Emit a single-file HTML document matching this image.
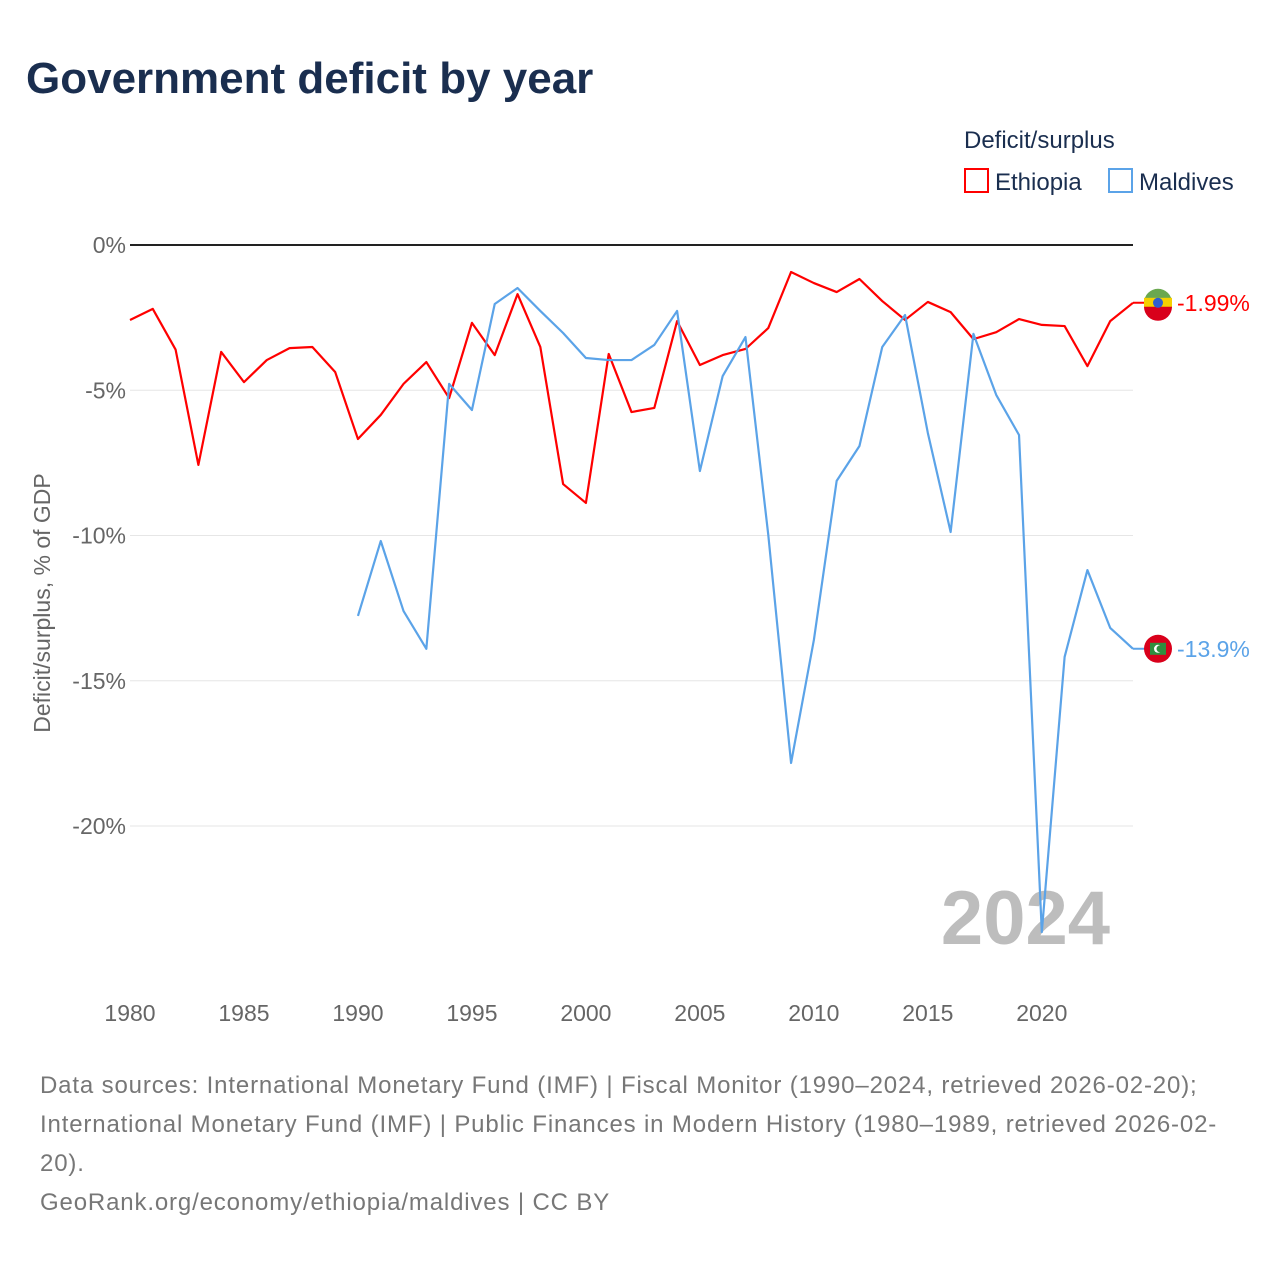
<!DOCTYPE html>
<html><head><meta charset="utf-8"><style>
body{margin:0;background:#fff;font-family:"Liberation Sans",sans-serif;}
#wrap{position:relative;width:1280px;height:1280px;overflow:hidden}
.src{letter-spacing:0.85px}
</style></head><body>
<div id="wrap">
<svg id="chart" width="1280" height="1280" xmlns="http://www.w3.org/2000/svg">
<text x="26" y="93" font-size="44" font-weight="bold" fill="#1a2e4f">Government deficit by year</text>
<text x="964" y="148" font-size="24" fill="#1a2e4f">Deficit/surplus</text>
<g><rect x="965" y="169" width="23" height="23" fill="none" stroke="#ff0000" stroke-width="2"/><text x="995" y="190" font-size="24" fill="#1a2e4f">Ethiopia</text></g>
<g><rect x="1109" y="169" width="23" height="23" fill="none" stroke="#5ba3e8" stroke-width="2"/><text x="1139" y="190" font-size="24" fill="#1a2e4f">Maldives</text></g>
<text transform="translate(50,603) rotate(-90)" text-anchor="middle" font-size="23" fill="#666">Deficit/surplus, % of GDP</text>
<text x="1110" y="944" text-anchor="end" font-size="76" font-weight="bold" fill="#bdbdbd">2024</text>
<g id="grid"></g><g id="series"></g>
<text class="src" x="40" y="1093" font-size="24" fill="#777">Data sources: International Monetary Fund (IMF) | Fiscal Monitor (1990–2024, retrieved 2026-02-20);</text>
<text class="src" x="40" y="1132" font-size="24" fill="#777">International Monetary Fund (IMF) | Public Finances in Modern History (1980–1989, retrieved 2026-02-</text>
<text class="src" x="40" y="1171" font-size="24" fill="#777">20).</text>
<text class="src" x="40" y="1210" font-size="24" fill="#777">GeoRank.org/economy/ethiopia/maldives | CC BY</text>
</svg></div>
<script>
const yTicks=[0,-5,-10,-15,-20];
const xTicks=[1980,1985,1990,1995,2000,2005,2010,2015,2020];
const ethYears=[1980,1981,1982,1983,1984,1985,1986,1987,1988,1989,1990,1991,1992,1993,1994,1995,1996,1997,1998,1999,2000,2001,2002,2003,2004,2005,2006,2007,2008,2009,2010,2011,2012,2013,2014,2015,2016,2017,2018,2019,2020,2021,2022,2023,2024];
const ethValues=[-2.58,-2.2,-3.6,-7.57,-3.68,-4.72,-3.96,-3.55,-3.51,-4.37,-6.68,-5.85,-4.78,-4.03,-5.27,-2.68,-3.79,-1.69,-3.51,-8.23,-8.88,-3.75,-5.75,-5.61,-2.62,-4.13,-3.79,-3.58,-2.86,-0.93,-1.31,-1.62,-1.17,-1.93,-2.58,-1.96,-2.31,-3.24,-3.0,-2.55,-2.75,-2.79,-4.17,-2.62,-1.99];
const mdvYears=[1990,1991,1992,1993,1994,1995,1996,1997,1998,1999,2000,2001,2002,2003,2004,2005,2006,2007,2008,2009,2010,2011,2012,2013,2014,2015,2016,2017,2018,2019,2020,2021,2022,2023,2024];
const mdvValues=[-12.77,-10.19,-12.6,-13.9,-4.78,-5.68,-2.03,-1.48,-2.27,-3.03,-3.89,-3.96,-3.96,-3.44,-2.27,-7.78,-4.51,-3.17,-9.98,-17.83,-13.6,-8.12,-6.92,-3.51,-2.41,-6.47,-9.88,-3.06,-5.16,-6.54,-23.65,-14.18,-11.19,-13.18,-13.9];
const xs=y=>130+(y-1980)*(1003/44);
const ys=v=>245-v*29.05;
const NS="http://www.w3.org/2000/svg";
const grid=document.getElementById('grid'),ser=document.getElementById('series');
function mk(t,a,p){const e=document.createElementNS(NS,t);for(const k in a)e.setAttribute(k,a[k]);p.appendChild(e);return e;}
yTicks.forEach(v=>{
 const l=mk('line',{x1:130,x2:1133,y1:ys(v),y2:ys(v),stroke:v===0?'#222':'#e6e6e6','stroke-width':v===0?2:1},grid);
 
 
 const t=mk('text',{x:126,y:ys(v)+8,'text-anchor':'end','font-size':23,fill:'#666'},grid);t.textContent=v+'%';
 
 
});
xTicks.forEach(y=>{
 const t=mk('text',{x:xs(y),y:1021,'text-anchor':'middle','font-size':23,fill:'#666'},grid);t.textContent=y;
 
 
});
function line(years,vals,color,name){
 const p=mk('polyline',{points:years.map((y,i)=>xs(y)+','+ys(vals[i])).join(' '),fill:'none',stroke:color,'stroke-width':2.2,'stroke-linejoin':'round'},ser);
 
 
}
line(ethYears,ethValues,'#ff0000','ethiopia-line');
line(mdvYears,mdvValues,'#5ba3e8','maldives-line');
function endLabel(v,color,name,flag){
 const y=ys(v),g=mk('g',{},ser);
 
 
 mk('line',{x1:1133,x2:1150,y1:y,y2:y,stroke:color,'stroke-width':2},g);
 if(flag==='eth'){
  mk('path',{d:`M1144 ${y} a14 14 0 0 1 28 0z`,fill:'#6aa84f'},g);
  mk('rect',{x:1144,y:y-5,width:28,height:10,fill:'#f5d000'},g);
  mk('path',{d:`M1144 ${y+4} a14 14 0 0 0 28 0z`,fill:'#d9001b'},g);
  mk('circle',{cx:1158,cy:y,r:5,fill:'#2f5fd0'},g);
 }else{
  mk('circle',{cx:1158,cy:y,r:14,fill:'#d9001b'},g);
  mk('rect',{x:1150,y:y-6,width:16,height:12,fill:'#2f8f3f'},g);
  mk('circle',{cx:1158,cy:y,r:4,fill:'#fff'},g);
  mk('circle',{cx:1160,cy:y,r:3.5,fill:'#2f8f3f'},g);
 }
 const t=mk('text',{x:1177,y:y+8,'font-size':23,fill:color},g);
 t.textContent=(Math.abs(v)<10?v.toFixed(2):v.toFixed(1))+'%';
}
endLabel(ethValues[ethValues.length-1],'#ff0000','ethiopia-end-label','eth');
endLabel(mdvValues[mdvValues.length-1],'#5ba3e8','maldives-end-label','mdv');
</script>
</body></html>
